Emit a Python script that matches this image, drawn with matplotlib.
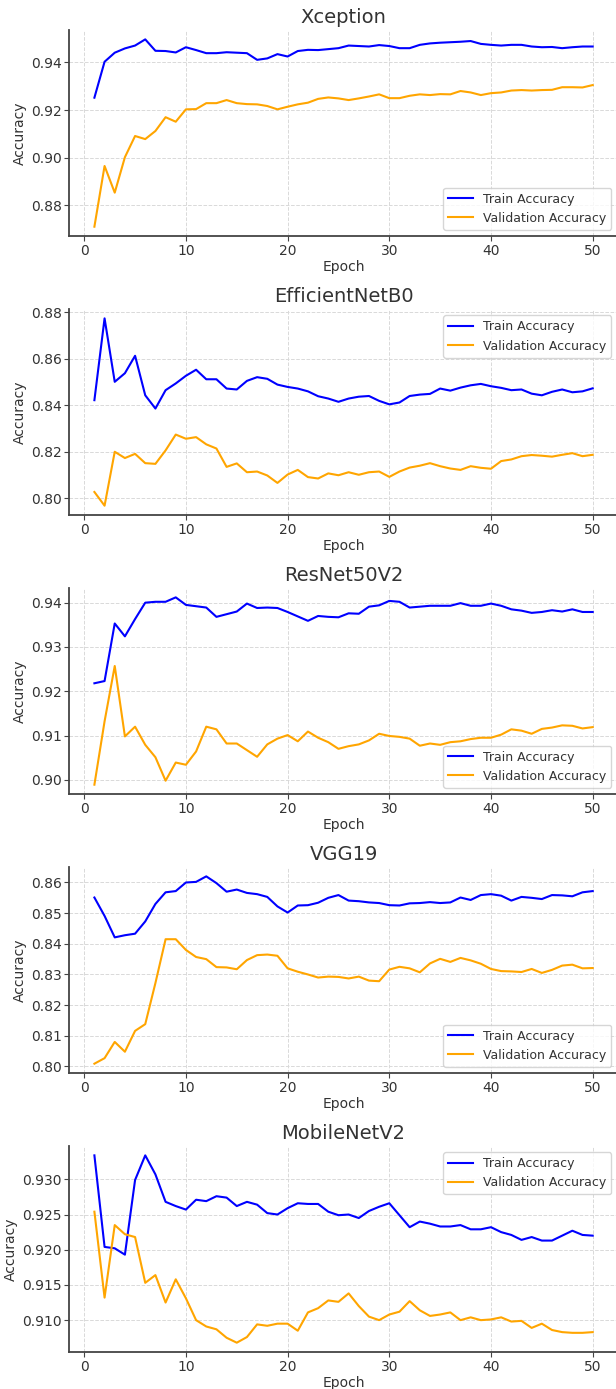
import matplotlib
matplotlib.use('Agg')
import matplotlib.pyplot as plt
import numpy as np

# Per-model accuracy curves
models = ['Xception', 'EfficientNetB0', 'ResNet50V2', 'VGG19', 'MobileNetV2']

xception_train = [0.9252, 0.9403, 0.9441, 0.9459, 0.9471, 0.9497, 0.9449, 0.9448, 0.9442, 0.9464,
                  0.9452, 0.9439, 0.9439, 0.9443, 0.9441, 0.9439, 0.9411, 0.9417, 0.9435, 0.9425,
                  0.9448, 0.9453, 0.9452, 0.9456, 0.9460, 0.9471, 0.9469, 0.9467, 0.9473, 0.9469,
                  0.9460, 0.9460, 0.9474, 0.9480, 0.9483, 0.9485, 0.9487, 0.9490, 0.9478, 0.9474,
                  0.9471, 0.9474, 0.9474, 0.9467, 0.9464, 0.9465, 0.9460, 0.9464, 0.9467, 0.9467]
xception_val = [0.8710, 0.8965, 0.8853, 0.9002, 0.9091, 0.9078, 0.9112, 0.9170, 0.9151, 0.9203,
                0.9204, 0.9229, 0.9229, 0.9242, 0.9229, 0.9225, 0.9224, 0.9217, 0.9203, 0.9214,
                0.9224, 0.9231, 0.9247, 0.9253, 0.9249, 0.9242, 0.9249, 0.9257, 0.9266, 0.9250,
                0.9250, 0.9260, 0.9266, 0.9263, 0.9267, 0.9266, 0.9280, 0.9274, 0.9263, 0.9271,
                0.9274, 0.9282, 0.9284, 0.9282, 0.9284, 0.9285, 0.9296, 0.9296, 0.9295, 0.9305]

effnet_train = [0.8422, 0.8774, 0.8501, 0.8538, 0.8613, 0.8443, 0.8386, 0.8465, 0.8494, 0.8527,
                0.8553, 0.8512, 0.8512, 0.8472, 0.8468, 0.8505, 0.8521, 0.8514, 0.8489, 0.8479,
                0.8472, 0.8460, 0.8439, 0.8429, 0.8415, 0.8429, 0.8437, 0.8440, 0.8419, 0.8404,
                0.8412, 0.8440, 0.8446, 0.8449, 0.8472, 0.8463, 0.8476, 0.8486, 0.8492, 0.8482,
                0.8475, 0.8465, 0.8468, 0.8450, 0.8443, 0.8458, 0.8468, 0.8456, 0.8460, 0.8473]
effnet_val = [0.8027, 0.7968, 0.8200, 0.8173, 0.8191, 0.8151, 0.8148, 0.8206, 0.8274, 0.8256,
              0.8263, 0.8232, 0.8214, 0.8135, 0.8150, 0.8112, 0.8115, 0.8098, 0.8066, 0.8102,
              0.8122, 0.8091, 0.8085, 0.8107, 0.8099, 0.8112, 0.8101, 0.8112, 0.8115, 0.8092,
              0.8115, 0.8132, 0.8140, 0.8151, 0.8138, 0.8128, 0.8122, 0.8138, 0.8131, 0.8127,
              0.8160, 0.8167, 0.8181, 0.8186, 0.8183, 0.8179, 0.8187, 0.8194, 0.8181, 0.8187]

resnet_train = [0.9218, 0.9223, 0.9353, 0.9324, 0.9363, 0.9400, 0.9402, 0.9402, 0.9412, 0.9395,
                0.9392, 0.9389, 0.9368, 0.9374, 0.9380, 0.9398, 0.9388, 0.9389, 0.9388, 0.9379,
                0.9369, 0.9359, 0.9370, 0.9368, 0.9367, 0.9376, 0.9375, 0.9391, 0.9394, 0.9404,
                0.9402, 0.9389, 0.9391, 0.9393, 0.9393, 0.9393, 0.9399, 0.9393, 0.9393, 0.9398,
                0.9393, 0.9385, 0.9382, 0.9377, 0.9379, 0.9383, 0.9380, 0.9385, 0.9379, 0.9379]
resnet_val = [0.8989, 0.9132, 0.9257, 0.9098, 0.9120, 0.9079, 0.9051, 0.8998, 0.9039, 0.9034,
              0.9064, 0.9120, 0.9114, 0.9082, 0.9082, 0.9067, 0.9052, 0.9080, 0.9093, 0.9101,
              0.9087, 0.9109, 0.9095, 0.9085, 0.9070, 0.9076, 0.9080, 0.9089, 0.9104, 0.9099,
              0.9097, 0.9093, 0.9077, 0.9082, 0.9079, 0.9085, 0.9087, 0.9092, 0.9095, 0.9095,
              0.9102, 0.9114, 0.9111, 0.9104, 0.9115, 0.9118, 0.9123, 0.9122, 0.9116, 0.9119]

vgg_train = [0.8551, 0.8491, 0.8421, 0.8428, 0.8433, 0.8473, 0.8530, 0.8568, 0.8572, 0.8600,
             0.8602, 0.8620, 0.8598, 0.8570, 0.8577, 0.8566, 0.8562, 0.8553, 0.8522, 0.8502,
             0.8525, 0.8526, 0.8534, 0.8550, 0.8559, 0.8541, 0.8539, 0.8535, 0.8533, 0.8526,
             0.8525, 0.8532, 0.8533, 0.8536, 0.8533, 0.8535, 0.8551, 0.8543, 0.8559, 0.8562,
             0.8557, 0.8541, 0.8553, 0.8550, 0.8546, 0.8559, 0.8558, 0.8555, 0.8568, 0.8572]
vgg_val = [0.8009, 0.8027, 0.8080, 0.8048, 0.8116, 0.8138, 0.8272, 0.8415, 0.8415, 0.8380,
           0.8357, 0.8350, 0.8324, 0.8323, 0.8317, 0.8347, 0.8363, 0.8365, 0.8361, 0.8320,
           0.8309, 0.8300, 0.8290, 0.8293, 0.8292, 0.8287, 0.8293, 0.8280, 0.8278, 0.8316,
           0.8325, 0.8320, 0.8307, 0.8336, 0.8351, 0.8341, 0.8354, 0.8346, 0.8335, 0.8318,
           0.8311, 0.8310, 0.8308, 0.8318, 0.8305, 0.8315, 0.8329, 0.8332, 0.8320, 0.8321]

mobile_train = [0.9334, 0.9204, 0.9202, 0.9193, 0.9299, 0.9334, 0.9307, 0.9268, 0.9262, 0.9257,
                0.9271, 0.9269, 0.9276, 0.9274, 0.9262, 0.9268, 0.9264, 0.9252, 0.9250, 0.9259,
                0.9266, 0.9265, 0.9265, 0.9254, 0.9249, 0.9250, 0.9245, 0.9255, 0.9261, 0.9266,
                0.9249, 0.9232, 0.9240, 0.9237, 0.9233, 0.9233, 0.9235, 0.9229, 0.9229, 0.9232,
                0.9225, 0.9221, 0.9214, 0.9218, 0.9213, 0.9213, 0.9220, 0.9227, 0.9221, 0.9220]
mobile_val = [0.9254, 0.9132, 0.9235, 0.9222, 0.9218, 0.9153, 0.9164, 0.9125, 0.9158, 0.9131,
              0.9100, 0.9091, 0.9087, 0.9075, 0.9068, 0.9076, 0.9094, 0.9092, 0.9095, 0.9095,
              0.9085, 0.9111, 0.9117, 0.9128, 0.9126, 0.9138, 0.9120, 0.9105, 0.9100, 0.9108,
              0.9112, 0.9127, 0.9114, 0.9106, 0.9108, 0.9111, 0.9100, 0.9104, 0.9100, 0.9101,
              0.9104, 0.9098, 0.9099, 0.9089, 0.9095, 0.9086, 0.9083, 0.9082, 0.9082, 0.9083]

train_curves = [xception_train, effnet_train, resnet_train, vgg_train, mobile_train]
val_curves = [xception_val, effnet_val, resnet_val, vgg_val, mobile_val]
legend_locs = ['lower right', 'upper right', 'lower right', 'lower right', 'upper right']

epochs = np.arange(1, 51)

text_color = '#333333'
plt.rcParams['font.family'] = 'DejaVu Sans'
plt.rcParams['text.color'] = text_color
plt.rcParams['axes.labelcolor'] = text_color
plt.rcParams['xtick.color'] = text_color
plt.rcParams['ytick.color'] = text_color

fig, axes = plt.subplots(5, 1, figsize=(6.16, 13.89), dpi=100)
fig.subplots_adjust(left=0.1128, right=1.0026, top=0.9784, bottom=0.0266, hspace=0.354)

for ax, name, tr, va, loc in zip(axes, models, train_curves, val_curves, legend_locs):
    ax.plot(epochs, tr, color='blue', linewidth=1.5, label='Train Accuracy')
    ax.plot(epochs, va, color='orange', linewidth=1.5, label='Validation Accuracy')
    ax.set_title(name, fontsize=14, color=text_color, pad=5)
    ax.set_xlabel('Epoch', fontsize=10, labelpad=1.5)
    ax.set_ylabel('Accuracy', fontsize=10, labelpad=3)
    ax.set_xticks([0, 10, 20, 30, 40, 50])
    ax.grid(True, linestyle='--', color='#d9d9d9', linewidth=0.7)
    ax.set_axisbelow(True)
    for side in ['top', 'right']:
        ax.spines[side].set_visible(False)
    for side in ['left', 'bottom']:
        ax.spines[side].set_color('#444444')
        ax.spines[side].set_linewidth(1.3)
    ax.tick_params(axis='both', labelsize=10, color='#444444', pad=2)
    leg = ax.legend(loc=loc, fontsize=9, framealpha=0.8, edgecolor='#cccccc')
    for t in leg.get_texts():
        t.set_color(text_color)

fig.savefig('out.png', dpi=100)
